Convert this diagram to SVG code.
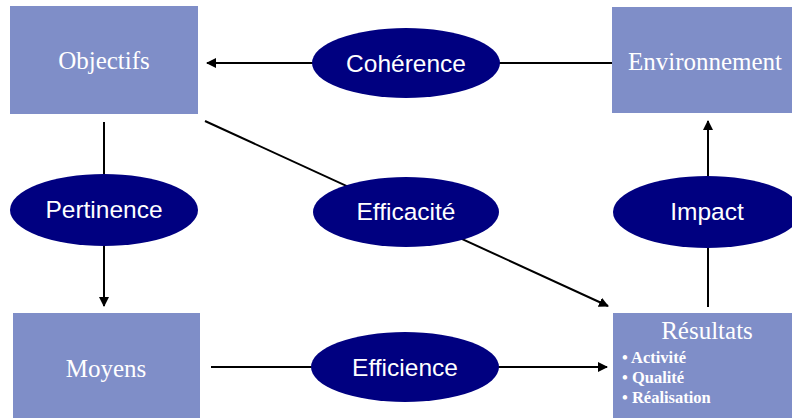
<svg xmlns="http://www.w3.org/2000/svg" width="792" height="418" viewBox="0 0 792 418">
<style>
.box{fill:#7f8ec8;}
.ell{fill:#000080;}
.bt{font-family:"Liberation Serif","Times New Roman",serif;font-size:25px;fill:#ffffff;text-anchor:middle;}
.et{font-family:"Liberation Sans",Arial,sans-serif;font-size:24.5px;fill:#ffffff;text-anchor:middle;}
.li{font-family:"Liberation Serif","Times New Roman",serif;font-size:16.5px;font-weight:bold;fill:#ffffff;}
.cn{stroke:#000000;stroke-width:2;fill:none;}
</style>
<defs>
<marker id="ah" viewBox="0 0 10 10" refX="9" refY="5" markerWidth="5" markerHeight="5" orient="auto" markerUnits="strokeWidth">
<path d="M0,0 L10,5 L0,10 z" fill="#000000"/>
</marker>
</defs>
<rect width="792" height="418" fill="#ffffff"/>
<g id="connectors">
<line class="cn" x1="612" y1="63" x2="207" y2="63" marker-end="url(#ah)"/>
<line class="cn" x1="104" y1="122" x2="104" y2="306" marker-end="url(#ah)"/>
<line class="cn" x1="205" y1="121" x2="608" y2="306" marker-end="url(#ah)"/>
<line class="cn" x1="708" y1="307" x2="708" y2="121" marker-end="url(#ah)"/>
<line class="cn" x1="211" y1="367" x2="607" y2="367" marker-end="url(#ah)"/>
</g>
<g id="objectifs">
<rect class="box" x="10" y="6" width="188" height="108"/>
<text class="bt" x="104" y="69">Objectifs</text>
</g>
<g id="environnement">
<rect class="box" x="612" y="7" width="180" height="106"/>
<text class="bt" x="705" y="70">Environnement</text>
</g>
<g id="moyens">
<rect class="box" x="13" y="313" width="187" height="105"/>
<text class="bt" x="106" y="377">Moyens</text>
</g>
<g id="resultats">
<rect class="box" x="613" y="313" width="179" height="105"/>
<text class="bt" x="707" y="339">Résultats</text>
<text class="li" x="622" y="363">• Activité</text>
<text class="li" x="622" y="383">• Qualité</text>
<text class="li" x="622" y="403">• Réalisation</text>
</g>
<g id="coherence">
<ellipse class="ell" cx="406" cy="63" rx="94" ry="35"/>
<text class="et" x="406" y="72">Cohérence</text>
</g>
<g id="pertinence">
<ellipse class="ell" cx="104" cy="210" rx="94" ry="36"/>
<text class="et" x="104" y="218">Pertinence</text>
</g>
<g id="efficacite">
<ellipse class="ell" cx="406" cy="212" rx="93" ry="35"/>
<text class="et" x="406" y="220">Efficacité</text>
</g>
<g id="impact">
<ellipse class="ell" cx="707" cy="212" rx="94" ry="36"/>
<text class="et" x="707" y="220">Impact</text>
</g>
<g id="efficience">
<ellipse class="ell" cx="405" cy="367" rx="94" ry="35"/>
<text class="et" x="405" y="376">Efficience</text>
</g>
</svg>
